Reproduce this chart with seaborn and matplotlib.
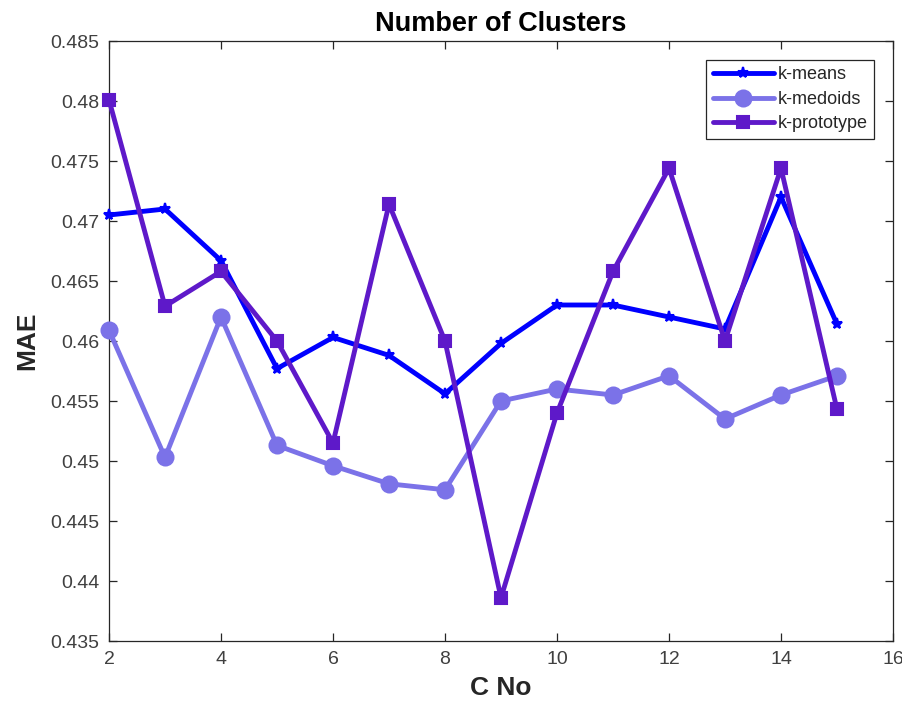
import matplotlib
matplotlib.use("Agg")
import matplotlib.pyplot as plt
import seaborn as sns
import pandas as pd

clusters = [2, 3, 4, 5, 6, 7, 8, 9, 10, 11, 12, 13, 14, 15]
kmeans = [0.4705, 0.4710, 0.4667, 0.4577, 0.4603, 0.4588, 0.4556, 0.4598, 0.4630, 0.4630, 0.4620, 0.4610, 0.4720, 0.4614]
kmedoids = [0.4609, 0.4503, 0.4620, 0.4513, 0.4496, 0.4481, 0.4476, 0.4550, 0.4560, 0.4555, 0.4571, 0.4535, 0.4555, 0.4571]
kproto = [0.4801, 0.4629, 0.4658, 0.4600, 0.4515, 0.4714, 0.4600, 0.4386, 0.4540, 0.4658, 0.4744, 0.4600, 0.4744, 0.4543]

series = ["k-means", "k-medoids", "k-prototype"]
colors = ["#0000FF", "#7B72E8", "#5E19C9"]
markers = ["*", "o", "s"]
msizes = [8, 11.5, 9]

y_ticks = [0.435, 0.44, 0.445, 0.45, 0.455, 0.46, 0.465, 0.47, 0.475, 0.48, 0.485]
y_labels = ["0.435", "0.44", "0.445", "0.45", "0.455", "0.46", "0.465", "0.47", "0.475", "0.48", "0.485"]
x_ticks = [2, 4, 6, 8, 10, 12, 14, 16]

df = pd.DataFrame({"C": clusters * 3,
                   "MAE": kmeans + kmedoids + kproto,
                   "method": [s for s in series for _ in clusters]})

sns.set_style("white")
plt.rcParams['font.family'] = ['Liberation Sans', 'DejaVu Sans']

fig = plt.figure(figsize=(9.03, 7.06), dpi=100)
W, H = 903, 706
ax = fig.add_axes([109 / W, (H - 641) / H, (893 - 109) / W, (641 - 41) / H])

for s, c, m, ms in zip(series, colors, markers, msizes):
    sub = df[df["method"] == s]
    sns.lineplot(data=sub, x="C", y="MAE", ax=ax, color=c, marker=m, markersize=ms,
                 linewidth=3.5, label=s, markeredgecolor=c, markeredgewidth=1.5,
                 clip_on=False, zorder=3)

ax.set_xlim(2, 16)
ax.set_ylim(0.435, 0.485)
ax.set_xticks(x_ticks)
ax.set_xticklabels([str(v) for v in x_ticks])
ax.set_yticks(y_ticks)
ax.set_yticklabels(y_labels)
ax.tick_params(direction="in", length=6, width=0.9, labelsize=14, colors="#262626",
               labelcolor="#404040", top=True, right=True, bottom=True, left=True, pad=7)
for sp in ax.spines.values():
    sp.set_visible(True)
    sp.set_color("#262626")
    sp.set_linewidth(0.9)

ax.set_xlabel("C No", fontsize=19, fontweight="bold", color="#262626", labelpad=6)
ax.set_ylabel("MAE", fontsize=19, fontweight="bold", color="#262626", labelpad=8)
ax.set_title("Number of Clusters", fontsize=19.5, fontweight="bold", color="black", pad=7)

leg = ax.legend(loc="upper right", fontsize=13, frameon=True, fancybox=False,
                edgecolor="#262626", framealpha=1, borderpad=0.35, handlelength=3.4,
                handletextpad=0.2, labelspacing=0.42, borderaxespad=0,
                bbox_to_anchor=((874 - 109) / (893 - 109), (641 - 60) / 600))
leg.get_frame().set_linewidth(0.9)

fig.savefig("out.png", dpi=100)
